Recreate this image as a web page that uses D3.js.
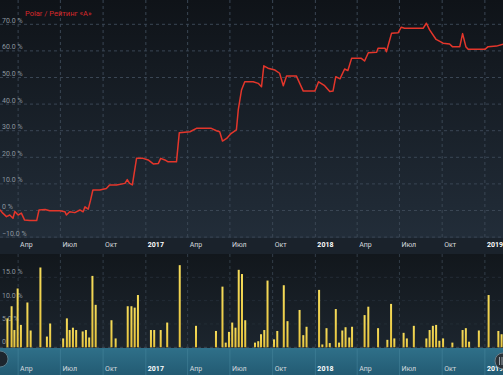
<!DOCTYPE html>
<html>
<head>
<meta charset="utf-8">
<script src="https://cdn.jsdelivr.net/npm/d3@7"></script>
<style>
  body { margin: 0; background: #12171d; }
  svg { display: block; font-family: Roboto, "Noto Sans", sans-serif; }
</style>
</head>
<body>
<div id="chart"></div>
<script>
// rating line, Polar / Рейтинг «A» (percent)
const lineDates = ['2016-02-22','2016-02-28','2016-03-07','2016-03-14','2016-03-21','2016-03-25','2016-04-01','2016-04-08','2016-04-15','2016-04-26',
  '2016-05-11','2016-05-16','2016-05-29','2016-06-08','2016-06-30','2016-07-11','2016-07-14','2016-07-21','2016-08-01','2016-08-12',
  '2016-08-19','2016-08-23','2016-08-30','2016-09-04','2016-09-09','2016-09-24','2016-10-08','2016-10-15','2016-10-30','2016-11-17',
  '2016-11-22','2016-11-27','2016-12-03','2016-12-12','2016-12-26','2017-01-06','2017-01-17','2017-01-28','2017-02-02','2017-02-11',
  '2017-02-18','2017-03-08','2017-03-14','2017-04-06','2017-04-20','2017-05-22','2017-06-02','2017-06-09','2017-06-15','2017-06-24',
  '2017-07-04','2017-07-15','2017-07-19','2017-07-26','2017-08-02','2017-08-20','2017-08-31','2017-09-07','2017-09-12','2017-09-21',
  '2017-10-06','2017-10-16','2017-10-24','2017-10-31','2017-11-21','2017-12-06','2017-12-31','2018-01-08','2018-01-21','2018-02-01',
  '2018-02-08','2018-02-14','2018-02-23','2018-03-05','2018-03-12','2018-03-20','2018-04-10','2018-04-17','2018-04-25','2018-05-13',
  '2018-05-16','2018-05-31','2018-06-03','2018-06-14','2018-06-28','2018-07-05','2018-07-12','2018-08-21','2018-08-28','2018-09-04',
  '2018-09-18','2018-10-03','2018-10-17','2018-10-23','2018-11-08','2018-11-14','2018-11-21','2018-11-26','2019-01-01','2019-01-08',
  '2019-01-26','2019-02-09']
const lineValues = [0.3,-1.0,-2.3,-1.7,-2.9,-0.4,-1.7,-1.0,-3.6,-3.8,
  -3.8,0.2,0.4,-0.1,-0.1,-0.5,-1.7,-0.5,-0.8,0.2,
  -0.5,1.4,0.5,3.9,7.7,7.7,8.3,9.6,9.6,10.2,
  11.6,10.2,9.6,19.6,19.6,19.0,17.5,17.7,19.6,19.0,
  18.3,18.3,29.2,29.6,30.9,30.9,30.0,29.6,26.1,27.1,
  29.0,30.3,37.8,45.3,48.4,48.4,47.8,46.5,54.4,53.5,
  52.8,51.6,46.9,50.6,50.6,44.9,44.9,48.4,46.9,44.7,
  44.9,50.3,49.5,53.2,52.6,57.2,57.2,56.2,59.3,59.5,
  61.0,61.0,59.7,66.6,66.8,68.9,68.5,68.5,70.4,67.9,
  64.3,62.9,62.6,61.6,61.6,66.5,61.6,60.6,60.6,61.6,
  61.8,62.5]

// weekly bars (percent)
const barDates = ['2016-03-09','2016-03-18','2016-03-24','2016-03-31','2016-04-07','2016-04-21','2016-04-28','2016-05-19','2016-06-02','2016-06-09',
  '2016-07-07','2016-07-15','2016-07-21','2016-07-28','2016-08-04','2016-08-18','2016-08-25','2016-09-01','2016-09-08','2016-09-15',
  '2016-10-19','2016-10-28','2016-11-23','2016-12-01','2016-12-08','2016-12-15','2017-01-12','2017-01-19','2017-02-02','2017-02-16',
  '2017-03-15','2017-04-19','2017-06-01','2017-06-15','2017-06-22','2017-06-29','2017-07-06','2017-07-13','2017-07-20','2017-07-27',
  '2017-08-03','2017-08-24','2017-08-31','2017-09-06','2017-09-13','2017-09-20','2017-10-04','2017-10-11','2017-10-25','2017-11-02',
  '2017-11-28','2017-12-06','2017-12-13','2018-01-09','2018-01-16','2018-01-25','2018-02-01','2018-02-14','2018-02-21','2018-02-28',
  '2018-03-07','2018-03-15','2018-03-21','2018-04-17','2018-04-25','2018-05-16','2018-06-05','2018-06-13','2018-06-20','2018-07-10',
  '2018-07-17','2018-08-01','2018-08-28','2018-09-04','2018-09-11','2018-09-18','2018-09-25','2018-10-03','2018-10-23','2018-11-14',
  '2018-11-21','2018-11-28','2018-12-19','2019-01-09','2019-01-30','2019-02-06']
const barValues = [6.2,8.8,3.7,12.6,4.8,9.6,3.6,17.1,2.3,5.1,
  1.9,6.2,3.7,4.2,3.7,3.4,3.7,2.1,15.3,9.1,
  5.8,1.9,8.8,8.8,8.5,11.2,3.7,3.7,3.7,5.3,
  17.6,4.6,3.5,13.0,1.0,3.3,5.3,4.2,16.6,15.7,
  5.8,1.0,1.3,2.8,3.7,14.3,1.7,3.5,13.3,5.6,
  8.0,2.6,4.4,12.3,0.6,4.1,0.9,8.2,1.0,3.6,
  4.3,2.1,4.4,6.9,8.7,4.1,1.6,9.3,1.9,3.1,
  1.9,4.6,1.9,3.7,4.6,4.8,1.4,1.9,1.0,3.7,
  4.1,1.2,3.6,11.2,3.5,2.8]

const lineTicks = [-10, 0, 10, 20, 30, 40, 50, 60, 70]
const barTicks = [0, 5, 10, 15]
const monthNames = ['Янв','Фев','Мар','Апр','Май','Июн','Июл','Авг','Сен','Окт','Ноя','Дек']
const seriesName = 'Polar / Рейтинг «A»'

const width = 503
const height = 375
const parse = d3.timeParse('%Y-%m-%d')

const svg = d3.select('#chart').append('svg').attr('width', width).attr('height', height)
const defs = svg.append('defs')

function vgrad(id, stops) {
    const g = defs.append('linearGradient').attr('id', id).attr('x1', 0).attr('y1', 0).attr('x2', 0).attr('y2', 1)
    stops.forEach(s => g.append('stop').attr('offset', s[0]).attr('stop-color', s[1]))
}
vgrad('topBg', [[0, '#0f1318'], [1, '#222d39']])
vgrad('barBg', [[0, '#12171c'], [1, '#1c252e']])
vgrad('navBg', [[0, '#2f7089'], [1, '#235b73']])
vgrad('barFill', [[0, '#f6dc5a'], [1, '#e5c23c']])

const x = d3.scaleTime()
    .domain([parse('2016-02-22'), parse('2019-02-09')])
    .range([0, width])

const yTop = d3.scaleLinear().domain([-10, 70]).range([237.1, 24.3])
const yBar = d3.scaleLinear().domain([0, 15]).range([347.3, 277.3])

// panels
svg.append('rect').attr('width', width).attr('height', 238).attr('fill', 'url(#topBg)')
svg.append('rect').attr('y', 238).attr('width', width).attr('height', 16).attr('fill', '#1a222b')
svg.append('rect').attr('y', 254).attr('width', width).attr('height', 94).attr('fill', 'url(#barBg)')
svg.append('rect').attr('y', 348).attr('width', width).attr('height', 27).attr('fill', 'url(#navBg)')

const timeTicks = x.ticks(d3.timeMonth.every(3))
const fmt = d => d.getMonth() === 0 ? d3.timeFormat('%Y')(d) : monthNames[d.getMonth()]

// vertical grid
svg.append('g')
    .selectAll('line')
    .data(timeTicks)
    .join('line')
    .attr('x1', d => x(d)).attr('x2', d => x(d))
    .attr('y1', 0).attr('y2', 238)
    .attr('stroke', '#3a4654')
    .attr('stroke-dasharray', '3,3')
svg.append('g')
    .selectAll('line')
    .data(timeTicks)
    .join('line')
    .attr('x1', d => x(d)).attr('x2', d => x(d))
    .attr('y1', 254).attr('y2', 347)
    .attr('stroke', '#323d48')
    .attr('stroke-dasharray', '3,3')
svg.append('g')
    .selectAll('line')
    .data(timeTicks)
    .join('line')
    .attr('x1', d => x(d)).attr('x2', d => x(d))
    .attr('y1', 349).attr('y2', 375)
    .attr('stroke', '#4a8aa2')
    .attr('stroke-opacity', 0.5)

// horizontal grid, top
svg.append('g')
    .selectAll('line')
    .data(lineTicks)
    .join('line')
    .attr('x1', 0).attr('x2', width)
    .attr('y1', d => yTop(d)).attr('y2', d => yTop(d))
    .attr('stroke', '#3a4654')
    .attr('stroke-dasharray', '3,3')

svg.append('g')
    .selectAll('line')
    .data(barTicks)
    .join('line')
    .attr('x1', 0).attr('x2', width)
    .attr('y1', d => yBar(d)).attr('y2', d => yBar(d))
    .attr('stroke', d => d === 0 ? '#3c4753' : '#232c36')
    .attr('stroke-dasharray', '3,3')

// y labels
svg.append('g')
    .style('font-size', '7px')
    .attr('fill', '#8d969f')
    .selectAll('text')
    .data(lineTicks)
    .join('text')
    .attr('x', 2)
    .attr('y', d => yTop(d) - 1.5)
    .text(d => d === 0 ? '0 %' : d3.format('.1f')(d) + ' %')

svg.append('g')
    .style('font-size', '7px')
    .attr('fill', '#8d969f')
    .selectAll('text')
    .data(barTicks)
    .join('text')
    .attr('x', 2)
    .attr('y', d => yBar(d) - 3)
    .text(d => d === 0 ? '0' : d3.format('.1f')(d) + ' %')

// line
const lineData = lineDates.map((d, i) => ({ date: parse(d), value: lineValues[i] }))
svg.append('path')
    .datum(lineData)
    .attr('fill', 'none')
    .attr('stroke', '#e4362b')
    .attr('stroke-width', 1.5)
    .attr('stroke-linejoin', 'round')
    .attr('d', d3.line().x(d => x(d.date)).y(d => yTop(d.value)))

// bars
const barData = barDates.map((d, i) => ({ date: parse(d), value: barValues[i] }))
svg.append('g')
    .selectAll('rect')
    .data(barData)
    .join('rect')
    .attr('x', d => x(d.date) - 1)
    .attr('y', d => yBar(d.value))
    .attr('width', 2)
    .attr('height', d => yBar(0) - yBar(d.value))
    .attr('fill', 'url(#barFill)')

// x axis labels (top band and navigator band)
const axisTop = d3.axisBottom(x).tickValues(timeTicks).tickFormat(fmt).tickSize(0)
const gTop = svg.append('g').attr('transform', 'translate(0,240)').call(axisTop)
const gNav = svg.append('g').attr('transform', 'translate(0,364)').call(axisTop)
;[gTop, gNav].forEach(g => {
    g.select('.domain').remove()
    g.selectAll('text')
        .attr('text-anchor', 'start')
        .attr('dx', 1.5)
        .attr('dy', '0.55em')
        .style('font-family', 'Roboto, sans-serif')
        .style('font-size', '7px')
        .attr('fill', d => d.getMonth() === 0 ? '#ffffff' : '#d4d9de')
        .style('font-weight', d => d.getMonth() === 0 ? 'bold' : 'normal')
})

// legend
svg.append('text')
    .attr('x', 25)
    .attr('y', 16)
    .attr('fill', '#d8282a')
    .style('font-size', '7.5px')
    .text(seriesName)

// navigator handles
svg.append('circle').attr('cx', 0).attr('cy', 359).attr('r', 8)
    .attr('fill', '#1d262e').attr('stroke', '#5a7d8c').attr('stroke-width', 1)
svg.append('circle').attr('cx', 503).attr('cy', 361).attr('r', 8)
    .attr('fill', '#2b3238').attr('stroke', '#6f7e88').attr('stroke-width', 1)
svg.append('g')
    .selectAll('line')
    .data([499.5, 502])
    .join('line')
    .attr('x1', d => d).attr('x2', d => d)
    .attr('y1', 357).attr('y2', 365)
    .attr('stroke', '#9aa4ab')
    .attr('stroke-width', 1)
</script>
</body>
</html>
